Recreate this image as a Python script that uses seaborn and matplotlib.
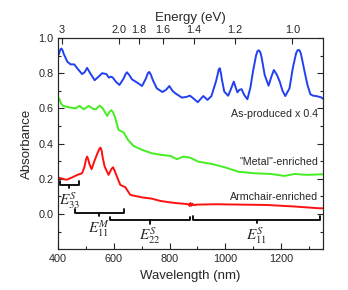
import numpy as np
import pandas as pd
import matplotlib
matplotlib.use("Agg")
import matplotlib.pyplot as plt
from matplotlib.ticker import MultipleLocator
import seaborn as sns

# spectra (wavelength nm, absorbance)
blue_wl = [402, 405, 408, 412, 416, 420, 433, 445, 458, 470, 486, 495, 504, 515, 531, 545,
           558, 573, 582, 590, 596, 608, 620, 635, 642, 647, 655, 665, 685, 701, 715, 722,
           727, 733, 740, 754, 774, 787, 799, 810, 820, 844, 860, 873, 885, 901, 912, 921,
           936, 950, 966, 972, 976, 980, 984, 988, 996, 1010, 1020, 1030, 1043, 1050, 1058,
           1068, 1079, 1090, 1099, 1110, 1115, 1120, 1125, 1130, 1141, 1155, 1165, 1174,
           1185, 1195, 1205, 1215, 1230, 1242, 1254, 1260, 1266, 1271, 1275, 1284, 1295,
           1305, 1315, 1326, 1343, 1350]
blue_abs = [0.905, 0.92, 0.935, 0.94, 0.93, 0.91, 0.865, 0.85, 0.85, 0.825, 0.795, 0.805,
            0.83, 0.80, 0.76, 0.78, 0.80, 0.795, 0.775, 0.78, 0.775, 0.75, 0.733, 0.77, 0.795,
            0.805, 0.79, 0.765, 0.745, 0.727, 0.77, 0.80, 0.807, 0.79, 0.76, 0.714, 0.693,
            0.705, 0.727, 0.70, 0.686, 0.661, 0.665, 0.672, 0.657, 0.635, 0.655, 0.67, 0.648,
            0.67, 0.752, 0.79, 0.82, 0.828, 0.80, 0.76, 0.695, 0.672, 0.71, 0.752, 0.691,
            0.705, 0.709, 0.675, 0.652, 0.72, 0.81, 0.90, 0.925, 0.93, 0.92, 0.89, 0.79,
            0.729, 0.78, 0.818, 0.79, 0.752, 0.70, 0.67, 0.714, 0.83, 0.915, 0.932, 0.93,
            0.91, 0.88, 0.81, 0.73, 0.68, 0.672, 0.67, 0.663, 0.655]

green_wl = [401, 403, 410, 417, 439, 463, 477, 492, 510, 526, 536, 549, 560, 576, 584, 591,
            598, 605, 617, 635, 651, 671, 701, 736, 772, 802, 826, 849, 873, 903, 951, 998,
            1046, 1105, 1165, 1212, 1248, 1295, 1343, 1350]
green_abs = [0.66, 0.657, 0.63, 0.614, 0.606, 0.60, 0.614, 0.595, 0.614, 0.597, 0.595, 0.616,
             0.60, 0.557, 0.58, 0.59, 0.575, 0.544, 0.477, 0.464, 0.42, 0.386, 0.364, 0.345,
             0.335, 0.33, 0.311, 0.326, 0.32, 0.297, 0.284, 0.265, 0.24, 0.231, 0.227, 0.216,
             0.227, 0.222, 0.225, 0.225]

red_wl = [400, 403, 421, 432, 451, 469, 486, 495, 500, 504, 508, 512, 520, 530, 540, 548,
          552, 556, 560, 567, 581, 591, 597, 603, 611, 623, 641, 659, 701, 736, 766, 800,
          826, 850, 868, 872, 875, 878, 882, 886, 900, 969, 1050, 1147, 1250, 1337, 1350]
red_abs = [0.20, 0.206, 0.197, 0.195, 0.208, 0.222, 0.231, 0.27, 0.31, 0.326, 0.31, 0.285,
           0.254, 0.30, 0.34, 0.37, 0.377, 0.36, 0.32, 0.269, 0.222, 0.255, 0.265, 0.245,
           0.212, 0.165, 0.152, 0.108, 0.094, 0.087, 0.074, 0.066, 0.061, 0.058, 0.055,
           0.045, 0.062, 0.047, 0.058, 0.05, 0.053, 0.055, 0.053, 0.051, 0.042, 0.032, 0.032]

series_names = ["As-produced x 0.4", '"Metal"-enriched', "Armchair-enriched"]
series_colors = ["#2340f0", "#44ee22", "#ff1010"]
label_y = [0.568, 0.294, 0.098]

# transition brackets: start, end, level, label
br_start = [406, 460, 585, 883]
br_end = [474, 635, 873, 1341]
br_level = [0.165, 0.007, -0.036, -0.032]
br_text = [r"$E_{33}^{S}$", r"$E_{11}^{M}$", r"$E_{22}^{S}$", r"$E_{11}^{S}$"]

energy_ticks = [3.0, 2.0, 1.8, 1.6, 1.4, 1.2, 1.0]
energy_labels = ["3", "2.0", "1.8", "1.6", "1.4", "1.2", "1.0"]

sns.set_style("ticks")
plt.rcParams["font.family"] = ["Liberation Sans", "DejaVu Sans"]
plt.rcParams["mathtext.fontset"] = "stix"
plt.rcParams["xtick.direction"] = "in"
plt.rcParams["ytick.direction"] = "in"

df = pd.concat([
    pd.DataFrame({"wl": blue_wl, "A": blue_abs, "s": series_names[0]}),
    pd.DataFrame({"wl": green_wl, "A": green_abs, "s": series_names[1]}),
    pd.DataFrame({"wl": red_wl, "A": red_abs, "s": series_names[2]}),
])

fig = plt.figure(figsize=(3.48, 2.90), dpi=100)
ax = fig.add_axes([0.167, 0.141, 0.761, 0.728])
sns.lineplot(data=df, x="wl", y="A", hue="s", palette=series_colors, sort=False,
             linewidth=1.4, legend=False, ax=ax)

for name, y in zip(series_names, label_y):
    ax.text(1332, y, name, ha="right", va="center", fontsize=7.7)

for x0, x1, lev, txt in zip(br_start, br_end, br_level, br_text):
    xm = (x0 + x1) / 2
    h = 0.02
    ax.plot([x0, x0, x1, x1], [lev + h, lev, lev, lev + h], color="black", lw=1.3)
    ax.plot([xm, xm], [lev, lev - h], color="black", lw=1.3)
    ax.text(xm, lev - 0.03, txt, ha="center", va="top", fontsize=11)

ax.set_xlim(400, 1350)
ax.set_ylim(-0.2, 1.0)
ax.xaxis.set_major_locator(MultipleLocator(200))
ax.xaxis.set_minor_locator(MultipleLocator(100))
ax.set_yticks([0.0, 0.2, 0.4, 0.6, 0.8, 1.0])
ax.yaxis.set_minor_locator(MultipleLocator(0.1))
ax.tick_params(which="both", direction="in", right=True, labelsize=7.8, width=0.8)
ax.tick_params(which="major", length=4)
ax.tick_params(which="minor", length=2.5)
ax.set_xlabel("Wavelength (nm)", fontsize=9.5)
ax.set_ylabel("Absorbance", fontsize=9.5)

top = ax.twiny()
top.set_xlim(ax.get_xlim())
top.set_xticks([1240 / e for e in energy_ticks])
top.set_xticklabels(energy_labels)
top.tick_params(direction="in", labelsize=7.8, length=4, width=0.8, pad=2)
top.set_xlabel("Energy (eV)", fontsize=9.5, labelpad=3)

fig.savefig("out.png", dpi=100)
